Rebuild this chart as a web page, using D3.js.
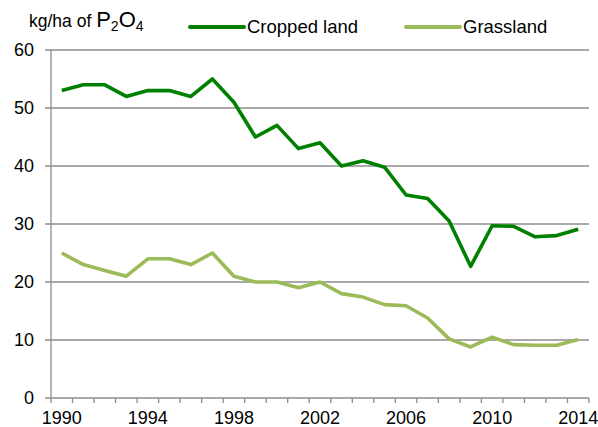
<!DOCTYPE html>
<html>
<head>
<meta charset="utf-8">
<script src="https://cdn.jsdelivr.net/npm/d3@7"></script>
<style>
  body { margin: 0; background: #fff; }
  text { font-family: "Liberation Sans", Arial, sans-serif; fill: #000; }
</style>
</head>
<body>
<div id="wrap"></div>
<script>
var years = d3.range(1990, 2015);
var cropped = [53, 54, 54, 52, 53, 53, 52, 55, 51, 45, 47, 43, 44, 40, 40.9, 39.8, 35, 34.4, 30.5, 22.7, 29.7, 29.6, 27.8, 28, 29.1];
var grass = [25, 23, 22, 21, 24, 24, 23, 25, 21, 20, 20, 19, 20, 18, 17.4, 16.1, 15.9, 13.8, 10.2, 8.8, 10.5, 9.2, 9.1, 9.1, 10.1];
var yTicks = [0, 10, 20, 30, 40, 50, 60];
var xLabels = [1990, 1994, 1998, 2002, 2006, 2010, 2014];

var W = 598, H = 427;
var pLeft = 51, pRight = 589, pTop = 50, pBottom = 398;

var svg = d3.select("#wrap").append("svg")
    .attr("width", W)
    .attr("height", H);

var x = d3.scaleBand().domain(years).range([pLeft, pRight]).padding(0);
var y = d3.scaleLinear().domain([0, 60]).range([pBottom, pTop]);
var cx = function(yr) { return x(yr) + x.bandwidth() / 2; };

// grid + y ticks
var gy = svg.append("g");
gy.selectAll("line")
    .data(yTicks)
    .enter()
    .append("line")
    .attr("x1", pLeft - 6)
    .attr("x2", pRight)
    .attr("y1", function(d) { return y(d); })
    .attr("y2", function(d) { return y(d); })
    .attr("stroke", "#8c8c8c")
    .attr("stroke-width", 1.3);

gy.selectAll("text")
    .data(yTicks)
    .enter()
    .append("text")
    .attr("x", 34)
    .attr("y", function(d) { return y(d); })
    .attr("dy", "0.36em")
    .attr("text-anchor", "end")
    .style("font-size", "18px")
    .text(function(d) { return d; });

// y axis line
svg.append("line")
    .attr("x1", pLeft).attr("x2", pLeft)
    .attr("y1", pTop).attr("y2", pBottom)
    .attr("stroke", "#8c8c8c")
    .attr("stroke-width", 1.3);

// x ticks at category boundaries
var bounds = years.map(function(d) { return x(d); }).concat([pRight]);
svg.append("g").selectAll("line")
    .data(bounds)
    .enter()
    .append("line")
    .attr("x1", function(d) { return d; })
    .attr("x2", function(d) { return d; })
    .attr("y1", pBottom)
    .attr("y2", pBottom + 5)
    .attr("stroke", "#8c8c8c")
    .attr("stroke-width", 1.3);

svg.append("g").selectAll("text")
    .data(xLabels)
    .enter()
    .append("text")
    .attr("x", function(d) { return cx(d); })
    .attr("y", 424)
    .attr("text-anchor", "middle")
    .style("font-size", "18px")
    .text(function(d) { return d; });

// lines
var line = d3.line()
    .x(function(d, i) { return cx(years[i]); })
    .y(function(d) { return y(d); });

svg.append("path")
    .datum(grass)
    .attr("d", line)
    .attr("fill", "none")
    .attr("stroke", "#9bbb59")
    .attr("stroke-width", 3.6)
    .attr("stroke-linejoin", "round");

svg.append("path")
    .datum(cropped)
    .attr("d", line)
    .attr("fill", "none")
    .attr("stroke", "#008000")
    .attr("stroke-width", 3.6)
    .attr("stroke-linejoin", "round");

// title
var t = svg.append("text").attr("x", 29).attr("y", 27).style("font-size", "17.5px");
t.append("tspan").text("kg/ha of ");
t.append("tspan").style("font-size", "22px").text("P");
t.append("tspan").style("font-size", "14px").attr("dy", 4).text("2");
t.append("tspan").style("font-size", "22px").attr("dy", -4).text("O");
t.append("tspan").style("font-size", "14px").attr("dy", 4).text("4");

// legend
var legend = [
    { name: "Cropped land", color: "#008000", x: 190 },
    { name: "Grassland", color: "#9bbb59", x: 406 }
];
var lg = svg.append("g").selectAll("g")
    .data(legend)
    .enter()
    .append("g");
lg.append("line")
    .attr("x1", function(d) { return d.x; })
    .attr("x2", function(d) { return d.x + 54; })
    .attr("y1", 27)
    .attr("y2", 27)
    .attr("stroke", function(d) { return d.color; })
    .attr("stroke-width", 4)
    .attr("stroke-linecap", "round");
lg.append("text")
    .attr("x", function(d) { return d.x + 57; })
    .attr("y", 33)
    .style("font-size", "18.5px")
    .text(function(d) { return d.name; });
</script>
</body>
</html>
